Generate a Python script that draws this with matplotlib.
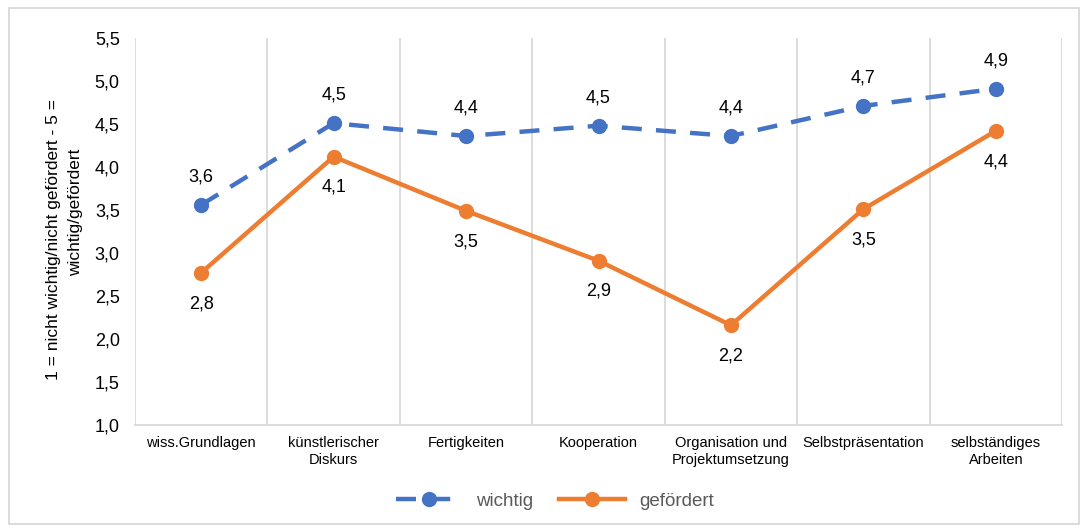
import matplotlib
matplotlib.use("Agg")
import matplotlib.pyplot as plt
from matplotlib.patches import Rectangle

plt.rcParams['font.family'] = ['Liberation Sans', 'DejaVu Sans']

categories = ["wiss.Grundlagen", "künstlerischer\nDiskurs", "Fertigkeiten", "Kooperation",
              "Organisation und\nProjektumsetzung", "Selbstpräsentation", "selbständiges\nArbeiten"]
wichtig = [3.56, 4.51, 4.36, 4.48, 4.36, 4.71, 4.91]
gefoerdert = [2.77, 4.12, 3.49, 2.91, 2.16, 3.51, 4.42]
y_ticks = [1.0, 1.5, 2.0, 2.5, 3.0, 3.5, 4.0, 4.5, 5.0, 5.5]
y_label_lines = ["1 = nicht wichtig/nicht gefördert - 5 =", "wichtig/gefördert"]

blue = "#4472C4"
orange = "#ED7D31"
grid_c = "#D9D9D9"

fig = plt.figure(figsize=(10.88, 5.32), dpi=100)
ax = fig.add_axes([135/1088, 1-425/532, (1062-135)/1088, (425-38)/532])

x = list(range(len(categories)))
ax.plot(x, wichtig, color=blue, lw=3.2, ls=(0, (4.5, 3.2)), marker='o', ms=10,
        label="wichtig", zorder=3)
ax.plot(x, gefoerdert, color=orange, lw=3.2, marker='o', ms=10,
        label="gefördert", zorder=3)

def fmt(v):
    return f"{v:.1f}".replace('.', ',')

for xi, v in zip(x, wichtig):
    ax.annotate(fmt(v), (xi, v), xytext=(0, 14), textcoords='offset points',
                ha='center', va='bottom', fontsize=13, color='#000000')
for xi, v in zip(x, gefoerdert):
    ax.annotate(fmt(v), (xi, v), xytext=(0, -16), textcoords='offset points',
                ha='center', va='top', fontsize=13, color='#000000')

ax.set_xlim(-0.5, len(categories) - 0.5)
ax.set_ylim(1.0, 5.5)
ax.set_yticks(y_ticks)
ax.set_yticklabels([fmt(t) for t in y_ticks], fontsize=13)
ax.set_xticks(x)
ax.set_xticklabels(categories, fontsize=10.5, linespacing=1.25)
ax.tick_params(axis='both', length=0, colors='#000000')
ax.tick_params(axis='y', pad=11)
ax.tick_params(axis='x', pad=8)

for b in [i - 0.5 for i in range(len(categories) + 1)]:
    ax.axvline(b, color=grid_c, lw=1.3, zorder=1)
for s in ['top', 'right', 'left']:
    ax.spines[s].set_visible(False)
ax.spines['bottom'].set_color(grid_c)
ax.spines['bottom'].set_linewidth(1.3)

# y-axis title (two lines, as wrapped in the original)
fig.text(54/1088, 1-239/532, y_label_lines[0], rotation=90, ha='center', va='center',
         fontsize=12.5, color='#000000')
fig.text(76/1088, 1-212/532, y_label_lines[1], rotation=90, ha='center', va='center',
         fontsize=12.5, color='#000000')

leg = fig.legend(loc='center', bbox_to_anchor=(555/1088, 1-501/532), ncol=2, frameon=False,
                 fontsize=13.5, handlelength=3.5, columnspacing=1.4, handletextpad=0.75)
for t in leg.get_texts():
    t.set_color('#595959')

fig.patches.append(Rectangle((9/1088, 8/532), 1070/1088, 516/532, transform=fig.transFigure,
                             fill=False, edgecolor='#D9D9D9', lw=1.3))

fig.savefig("out.png", dpi=100)
